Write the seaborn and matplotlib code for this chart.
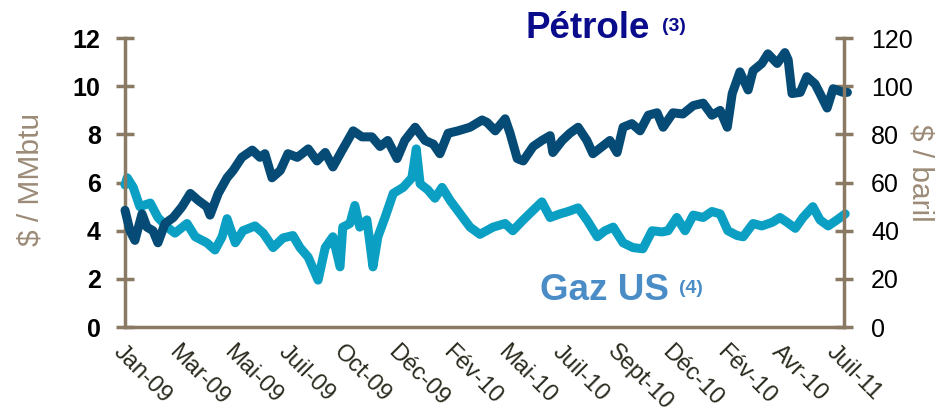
import numpy as np
import pandas as pd
import matplotlib
matplotlib.use("Agg")
import matplotlib.pyplot as plt
import seaborn as sns

# x positions are in "tick units" (0 = Jan-09 ... 13 = Juil-11)
tick_labels = ["Jan-09", "Mar-09", "Mai-09", "Juil-09", "Oct-09", "Déc-09", "Fév-10",
               "Mai-10", "Juil-10", "Sept-10", "Déc-10", "Fév-10", "Avr-10", "Juil-11"]

oil_x = [0.00, 0.09, 0.18, 0.31, 0.40, 0.51, 0.60, 0.73, 0.88, 1.04, 1.19, 1.33, 1.49, 1.55,
         1.70, 1.86, 1.97, 2.13, 2.32, 2.46, 2.55, 2.68, 2.83, 2.97, 3.14, 3.20, 3.34, 3.50,
         3.65, 3.79, 3.96, 4.16, 4.32, 4.50, 4.65, 4.79, 4.96, 5.10, 5.29, 5.47, 5.62, 5.74,
         5.89, 6.07, 6.29, 6.51, 6.60, 6.75, 6.93, 7.02, 7.15, 7.26, 7.44, 7.60, 7.75, 7.80,
         7.97, 8.11, 8.26, 8.42, 8.53, 8.70, 8.84, 8.97, 9.08, 9.24, 9.39, 9.54, 9.70, 9.81,
         9.99, 10.17, 10.36, 10.54, 10.70, 10.85, 10.98, 11.07, 11.21, 11.36, 11.45, 11.61,
         11.72, 11.89, 12.03, 12.09, 12.16, 12.31, 12.43, 12.58, 12.67, 12.80, 12.91, 13.09, 13.17]
oil_usd_bbl = [48.5, 40.0, 36.0, 47.0, 41.5, 40.0, 35.0, 43.0, 45.5, 50.0, 55.5, 52.7, 50.0, 46.5,
               55.5, 62.0, 65.0, 70.5, 73.5, 70.5, 72.0, 62.0, 65.0, 72.0, 70.5, 71.5, 74.0, 69.0,
               72.5, 66.5, 73.5, 81.5, 79.0, 79.0, 75.0, 77.5, 70.0, 77.5, 83.0, 77.5, 76.0, 72.0,
               80.5, 81.5, 83.0, 86.0, 85.0, 81.5, 86.5, 80.5, 70.0, 69.0, 75.0, 77.5, 79.5, 72.5,
               77.5, 80.5, 83.0, 77.5, 72.0, 75.0, 77.5, 72.5, 83.0, 84.5, 81.5, 88.0, 89.0, 83.0,
               89.0, 88.5, 92.0, 93.0, 88.0, 90.0, 83.0, 97.0, 106.0, 98.5, 106.5, 109.5,
               113.5, 109.5, 114.0, 111.0, 97.0, 97.5, 104.0, 101.0, 97.0, 91.0, 99.0, 97.5, 97.5]

gas_x = [0.00, 0.04, 0.15, 0.27, 0.46, 0.60, 0.77, 0.91, 1.13, 1.28, 1.49, 1.64, 1.77, 1.86,
         2.01, 2.15, 2.37, 2.52, 2.70, 2.88, 3.06, 3.19, 3.34, 3.52, 3.65, 3.79, 3.92, 3.97,
         4.10, 4.19, 4.28, 4.41, 4.52, 4.61, 4.74, 4.89, 5.07, 5.23, 5.31, 5.38, 5.52, 5.65,
         5.78, 5.93, 6.11, 6.29, 6.47, 6.71, 6.93, 7.07, 7.26, 7.44, 7.60, 7.75, 7.93, 8.08,
         8.26, 8.42, 8.61, 8.75, 8.90, 9.08, 9.26, 9.44, 9.61, 9.79, 9.90, 10.06, 10.21, 10.36,
         10.54, 10.70, 10.85, 10.99, 11.16, 11.27, 11.45, 11.61, 11.80, 11.94, 12.07, 12.22,
         12.36, 12.54, 12.67, 12.82, 12.98, 13.13]
gas_usd_mmbtu = [5.9, 6.2, 5.8, 5.0, 5.15, 4.55, 4.15, 3.9, 4.3, 3.75, 3.5, 3.2, 3.75, 4.5,
                 3.5, 4.0, 4.2, 3.9, 3.3, 3.7, 3.8, 3.3, 2.9, 1.95, 3.3, 3.75, 2.5, 4.15,
                 4.3, 5.05, 4.15, 4.45, 2.5, 3.75, 4.55, 5.55, 5.8, 6.2, 7.4, 5.95, 5.7, 5.35,
                 5.8, 5.25, 4.7, 4.15, 3.85, 4.15, 4.3, 4.0, 4.45, 4.85, 5.2, 4.55, 4.7, 4.8,
                 4.95, 4.45, 3.75, 4.0, 4.15, 3.5, 3.3, 3.25, 4.0, 3.95, 4.0, 4.55, 4.0, 4.65,
                 4.55, 4.8, 4.7, 4.0, 3.8, 3.75, 4.3, 4.2, 4.35, 4.55, 4.35, 4.1,
                 4.55, 5.0, 4.45, 4.2, 4.45, 4.7]

left_ticks = [0, 2, 4, 6, 8, 10, 12]
right_ticks = [0, 20, 40, 60, 80, 100, 120]

oil_df = pd.DataFrame({"x": oil_x, "oil": oil_usd_bbl})
gas_df = pd.DataFrame({"x": gas_x, "gas": gas_usd_mmbtu})

sns.set_theme(style="white")
plt.rcParams["font.family"] = ["Liberation Sans", "DejaVu Sans"]

SPINE = "#8b7a63"
OIL_C = "#054b76"
GAS_C = "#0a9fc3"
LABEL_C = "#9b8b77"

fig = plt.figure(figsize=(9.4, 4.15), dpi=100)
ax = fig.add_axes([0.133, 0.212, 0.765, 0.696])
ax2 = ax.twinx()

sns.lineplot(data=gas_df, x="x", y="gas", ax=ax, color=GAS_C, lw=6.5,
             solid_capstyle="round", solid_joinstyle="round")
sns.lineplot(data=oil_df, x="x", y="oil", ax=ax2, color=OIL_C, lw=6.5,
             solid_capstyle="round", solid_joinstyle="round")
for a in (ax, ax2):
    for ln in a.lines:
        ln.set_clip_on(False)

ax.set_xlim(0, 13.11)
ax.set_ylim(0, 12)
ax2.set_ylim(0, 120)

ax.set_xticks(range(len(tick_labels)))
ax.set_xticklabels(tick_labels, rotation=-45, ha="left", va="top",
                   rotation_mode="anchor", fontsize=17, color="#2b2a1e")
ax.set_yticks(left_ticks)
ax.set_yticklabels([str(t) for t in left_ticks], fontsize=18, fontweight="bold", color="black")
ax2.set_yticks(right_ticks)
ax2.set_yticklabels([str(t) for t in right_ticks], fontsize=18, color="black")

for a in (ax, ax2):
    a.set_facecolor("none")
    a.grid(False)
    a.spines["top"].set_visible(False)
    for s in ("left", "right", "bottom"):
        a.spines[s].set_color(SPINE)
        a.spines[s].set_linewidth(2.5)
ax.spines["right"].set_visible(False)
ax2.spines["left"].set_visible(False)
ax2.spines["bottom"].set_visible(False)

ax.tick_params(axis="x", direction="inout", length=14, width=2.5, color=SPINE, pad=3)
ax.tick_params(axis="y", direction="inout", length=13, width=2.5, color=SPINE, pad=11)
ax2.tick_params(axis="y", direction="inout", length=13, width=2.5, color=SPINE, pad=13)

ax.set_xlabel("")
ax.set_ylabel("")
ax2.set_ylabel("")
ax.text(-0.132, 0.51, "$ / MMbtu", transform=ax.transAxes, rotation=90,
        ha="center", va="center", fontsize=21.5, color=LABEL_C)
ax.text(1.106, 0.535, "$ / baril", transform=ax.transAxes, rotation=270,
        ha="center", va="center", fontsize=21.5, color=LABEL_C)

fig.text(0.559, 0.932, "Pétrole", fontsize=26.5, fontweight="bold", color="#0b0c8c", va="center")
fig.text(0.704, 0.937, "(3)", fontsize=14, fontweight="bold", color="#0b0c8c", va="center")
fig.text(0.574, 0.30, "Gaz US", fontsize=26.5, fontweight="bold", color="#4a8cc6", va="center")
fig.text(0.722, 0.305, "(4)", fontsize=14, fontweight="bold", color="#4a8cc6", va="center")

fig.savefig("out.png", dpi=100)
